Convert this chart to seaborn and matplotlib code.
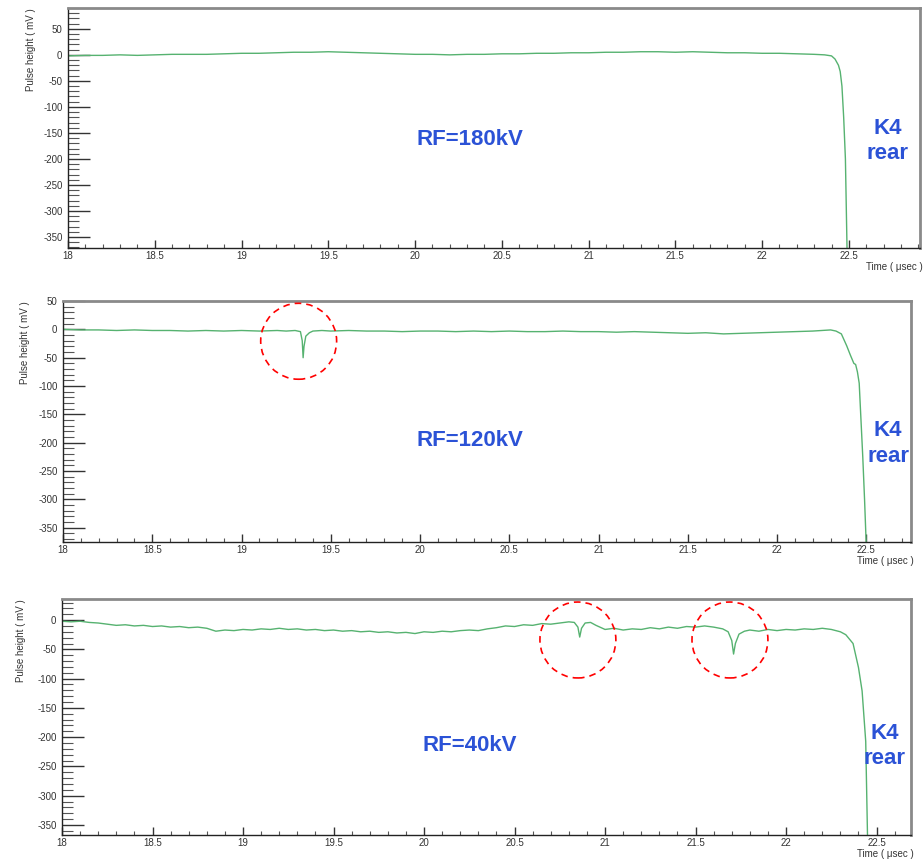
import matplotlib
matplotlib.use("Agg")
import matplotlib.pyplot as plt
from matplotlib.ticker import MultipleLocator
import pandas as pd
import seaborn as sns

# Trace 1: RF=180kV
t_180 = [18.0, 18.1, 18.2, 18.3, 18.4, 18.5, 18.6, 18.7, 18.8, 18.9,
         19.0, 19.1, 19.2, 19.3, 19.4, 19.5, 19.6, 19.7, 19.8, 19.9,
         20.0, 20.1, 20.2, 20.3, 20.4, 20.5, 20.6, 20.7, 20.8, 20.9,
         21.0, 21.1, 21.2, 21.3, 21.4, 21.5, 21.6, 21.7, 21.8, 21.9,
         22.0, 22.1, 22.2, 22.3, 22.36, 22.40, 22.42, 22.44, 22.45,
         22.46, 22.47, 22.48, 22.49]
v_180 = [-2, -1, -1, 0, -1, 0, 1, 1, 1, 2,
         3, 3, 4, 5, 5, 6, 5, 4, 3, 2,
         1, 1, 0, 1, 1, 2, 2, 3, 3, 4,
         4, 5, 5, 6, 6, 5, 6, 5, 4, 4,
         3, 3, 2, 1, 0, -2, -8, -20, -32,
         -60, -120, -200, -385]

# Trace 2: RF=120kV
t_120 = [18.0, 18.1, 18.2, 18.3, 18.4, 18.5, 18.6, 18.7, 18.8, 18.9,
         19.0, 19.1, 19.2, 19.25, 19.30, 19.33, 19.34, 19.345, 19.35, 19.36,
         19.38, 19.40, 19.45, 19.5, 19.6, 19.7, 19.8, 19.9,
         20.0, 20.1, 20.2, 20.3, 20.4, 20.5, 20.6, 20.7, 20.8, 20.9,
         21.0, 21.1, 21.2, 21.3, 21.4, 21.5, 21.6, 21.7, 21.8, 21.9,
         22.0, 22.1, 22.2, 22.25, 22.30, 22.33, 22.36, 22.39, 22.41, 22.43,
         22.44, 22.45, 22.46, 22.47, 22.48, 22.49, 22.50]
v_120 = [0, -1, -1, -2, -1, -2, -2, -3, -2, -3,
         -2, -3, -2, -3, -2, -4, -20, -50, -30, -12,
         -6, -3, -2, -3, -2, -3, -3, -4,
         -3, -3, -4, -3, -4, -3, -4, -4, -3, -4,
         -4, -5, -4, -5, -6, -7, -6, -8, -7, -6,
         -5, -4, -3, -2, -1, -3, -8, -29, -45, -60,
         -62, -75, -95, -160, -225, -300, -385]

# Trace 3: RF=40kV
t_40 = [18.00, 18.05, 18.10, 18.15, 18.20, 18.25, 18.30, 18.35, 18.40, 18.45,
        18.50, 18.55, 18.60, 18.65, 18.70, 18.75, 18.80, 18.85, 18.90, 18.95,
        19.00, 19.05, 19.10, 19.15, 19.20, 19.25, 19.30, 19.35, 19.40, 19.45,
        19.50, 19.55, 19.60, 19.65, 19.70, 19.75, 19.80, 19.85, 19.90, 19.95,
        20.00, 20.05, 20.10, 20.15, 20.20, 20.25, 20.30, 20.35, 20.40, 20.45,
        20.50, 20.55, 20.60, 20.65, 20.70, 20.75, 20.80, 20.83, 20.85, 20.86,
        20.87, 20.89, 20.92, 20.95, 21.00, 21.05, 21.10, 21.15, 21.20, 21.25,
        21.30, 21.35, 21.40, 21.45, 21.50, 21.55, 21.60, 21.65, 21.68, 21.70,
        21.71, 21.72, 21.74, 21.77, 21.80, 21.85, 21.90, 21.95, 22.00, 22.05,
        22.10, 22.15, 22.20, 22.25, 22.30, 22.33, 22.37, 22.40, 22.42, 22.44,
        22.45]
v_40 = [-2, -3, -2, -4, -5, -7, -9, -8, -10, -9,
        -11, -10, -12, -11, -13, -12, -14, -19, -17, -18,
        -16, -17, -15, -16, -14, -16, -15, -17, -16, -18,
        -17, -19, -18, -20, -19, -21, -20, -22, -21, -23,
        -20, -21, -19, -20, -18, -17, -18, -15, -13, -10,
        -11, -8, -9, -6, -7, -5, -3, -4, -12, -29,
        -14, -5, -4, -9, -16, -14, -17, -15, -16, -13,
        -15, -12, -14, -11, -12, -10, -12, -15, -20, -35,
        -58, -40, -24, -19, -17, -19, -16, -18, -16, -17,
        -15, -16, -14, -16, -20, -25, -40, -81, -121, -207,
        -370]

labels = ["RF=180kV", "RF=120kV", "RF=40kV"]
circle_t = [[], [19.32], [20.85, 21.69]]
circle_v = [[], [-21], [-34, -34]]
xlims = [(18, 22.91), (18, 22.75), (18, 22.69)]
ylims = [(-371, 90), (-375, 50), (-367, 36)]

sns.set_style("ticks")
plt.rcParams["font.family"] = ["Liberation Sans", "DejaVu Sans"]
plt.rcParams["axes.unicode_minus"] = False

fig = plt.figure(figsize=(9.24, 8.61), dpi=100)
rects = [[0.0736, 0.7120, 0.9221, 0.2787],
         [0.0682, 0.3705, 0.9177, 0.2799],
         [0.0671, 0.0302, 0.9188, 0.2741]]
ylab_x = [-0.037, -0.039, -0.042]
rf_pos = [(0.472, 0.45), (0.48, 0.423), (0.48, 0.38)]
k4_pos = [(0.962, 0.446), (0.973, 0.41), (0.969, 0.377)]

traces = [(t_180, v_180), (t_120, v_120), (t_40, v_40)]
blue = "#2b52d6"

for i, (tt, vv) in enumerate(traces):
    ax = fig.add_axes(rects[i])
    df = pd.DataFrame({"time": tt, "height": vv})
    sns.lineplot(data=df, x="time", y="height", ax=ax, color="#56b270",
                 lw=1.0, sort=False, estimator=None)
    if circle_t[i]:
        ax.scatter(circle_t[i], circle_v[i], s=2990, facecolors="none",
                   edgecolors="red", linewidths=1.2, linestyles=(0, (4, 3)),
                   zorder=5)
    ax.set_xlim(*xlims[i])
    ax.set_ylim(*ylims[i])
    ax.xaxis.set_major_locator(MultipleLocator(0.5))
    ax.xaxis.set_minor_locator(MultipleLocator(0.1))
    ax.yaxis.set_major_locator(MultipleLocator(50))
    ax.yaxis.set_minor_locator(MultipleLocator(10))
    ax.xaxis.set_major_formatter(plt.FuncFormatter(lambda x, p: f"{x:g}"))
    ax.tick_params(axis="y", which="major", direction="in", length=16,
                   width=1, labelsize=7, pad=4, colors="#333333")
    ax.tick_params(axis="y", which="minor", direction="in", length=8,
                   width=0.8, color="#555555")
    ax.tick_params(axis="x", which="major", direction="in", length=6,
                   width=1, labelsize=7, pad=2, colors="#333333")
    ax.tick_params(axis="x", which="minor", direction="in", length=3,
                   width=0.8, color="#555555")
    for s in ["top", "right"]:
        ax.spines[s].set_color("#8a8a8a")
        ax.spines[s].set_linewidth(2)
    for s in ["left", "bottom"]:
        ax.spines[s].set_color("#222222")
        ax.spines[s].set_linewidth(1)
    ax.set_ylabel("Pulse height ( mV )", fontsize=7, loc="top",
                  color="#333333")
    ax.yaxis.set_label_coords(ylab_x[i], 1.0)
    ax.set_xlabel("Time ( \u03bcsec )", fontsize=7, loc="right",
                  color="#333333")
    ax.xaxis.set_label_coords(1.003, -0.06)
    ax.text(rf_pos[i][0], rf_pos[i][1], labels[i], transform=ax.transAxes,
            fontsize=16, fontweight="bold", color=blue, ha="center",
            va="center")
    ax.text(k4_pos[i][0], k4_pos[i][1], "K4\nrear", transform=ax.transAxes,
            fontsize=16, fontweight="bold", color=blue, ha="center",
            va="center", linespacing=1.3)

fig.savefig("out.png", dpi=100)
